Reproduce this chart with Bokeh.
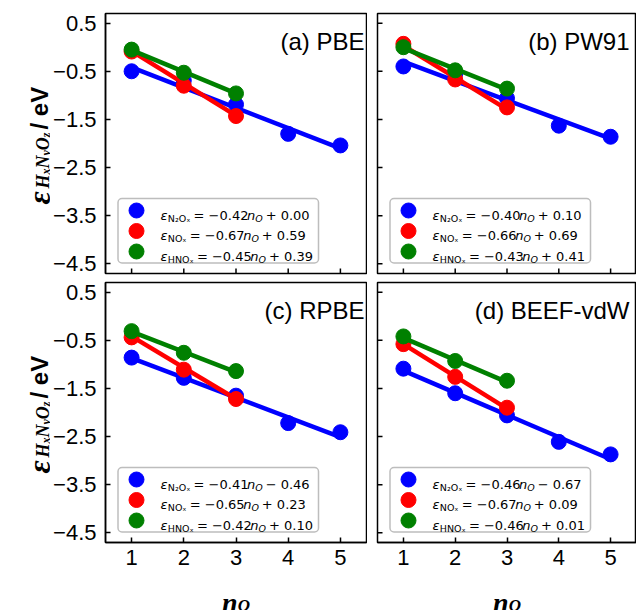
import numpy as np
from bokeh.plotting import figure
from bokeh.layouts import row, column
from bokeh.models import Range1d, FixedTicker, CustomJSTickFormatter, BoxAnnotation
from bokeh.core.properties import value
from bokeh.embed import file_html
from bokeh.resources import INLINE

# ---------------- data ----------------
functionals = ["PBE", "PW91", "RPBE", "BEEF-vdW"]
panel_tags = ["(a)", "(b)", "(c)", "(d)"]
species_sub = ["N₂Oₓ", "NOₓ", "HNOₓ"]
series_colors = ["#0000ff", "#ff0000", "#008000"]

n_O_n2ox = [1, 2, 3, 4, 5]
n_O_nox = [1, 2, 3]
n_O_hnox = [1, 2, 3]

pbe_n2ox = [-0.50, -0.69, -1.19, -1.80, -2.04]
pbe_nox = [-0.09, -0.80, -1.43]
pbe_hnox = [-0.05, -0.53, -0.96]

pw91_n2ox = [-0.40, -0.55, -1.06, -1.63, -1.86]
pw91_nox = [0.07, -0.67, -1.25]
pw91_hnox = [0.00, -0.48, -0.86]

rpbe_n2ox = [-0.86, -1.28, -1.65, -2.22, -2.41]
rpbe_nox = [-0.44, -1.11, -1.72]
rpbe_hnox = [-0.31, -0.76, -1.14]

beef_n2ox = [-1.09, -1.60, -2.06, -2.61, -2.87]
beef_nox = [-0.58, -1.26, -1.90]
beef_hnox = [-0.42, -0.93, -1.34]

# linear fits (N2Ox, NOx, HNOx)
pbe_slopes = [-0.42, -0.67, -0.45]
pbe_intercepts = [0.00, 0.59, 0.39]
pw91_slopes = [-0.40, -0.66, -0.43]
pw91_intercepts = [0.10, 0.69, 0.41]
rpbe_slopes = [-0.41, -0.65, -0.42]
rpbe_intercepts = [-0.46, 0.23, 0.10]
beef_slopes = [-0.46, -0.67, -0.46]
beef_intercepts = [-0.67, 0.09, 0.01]

x_ticks = [1, 2, 3, 4, 5]
y_ticks = [0.5, -0.5, -1.5, -2.5, -3.5, -4.5]
X_LIM = (0.5, 5.5)
Y_LIM = (-4.7, 0.7)

panel_values = [
    (pbe_n2ox, pbe_nox, pbe_hnox, pbe_slopes, pbe_intercepts),
    (pw91_n2ox, pw91_nox, pw91_hnox, pw91_slopes, pw91_intercepts),
    (rpbe_n2ox, rpbe_nox, rpbe_hnox, rpbe_slopes, rpbe_intercepts),
    (beef_n2ox, beef_nox, beef_hnox, beef_slopes, beef_intercepts),
]

# ---------------- layout constants (px, page coordinates start at 0) ----------------
LAB_W = 50
LEFT_B = 55
FW_L = 261
RIGHT_B_L = 1
GAP = 10
FW_R = 259
TOP_B = 13
FH = 260
MID_B1 = 5
MID_B2 = 4
BOT_B = 32
XLAB_H = 36
TOP_H = TOP_B + FH + MID_B1
BOT_H = MID_B2 + FH + BOT_B
TOT_H = TOP_H + BOT_H + XLAB_H
TICK_LEN = 5

# DejaVu Sans advance widths (em)
DJV = {'ε': 0.56, 'N': 0.748, 'O': 0.787, 'H': 0.752, '₂': 0.40, 'ₓ': 0.40,
       '=': 0.838, '−': 0.838, '+': 0.838, ' ': 0.318, '.': 0.318, 'n': 0.634}
# Liberation Serif bold italic / Liberation Sans bold advance widths (em)
TBI = {'ε': 0.50, 'H': 0.778, 'N': 0.722, 'O': 0.722, 'x': 0.5, 'y': 0.444, 'z': 0.389, 'n': 0.556}
LSB = {'/': 0.278, ' ': 0.278, 'e': 0.556, 'V': 0.667}


def tw(s, size, table=DJV):
    return sum(table.get(c, 0.6) for c in s) * size


def make_panel(i):
    left_col = i % 2 == 0
    bottom_row = i >= 2
    fw = FW_L if left_col else FW_R
    bl = LEFT_B if left_col else GAP
    br = RIGHT_B_L if left_col else 0
    bt, bb = (MID_B2, BOT_B) if bottom_row else (TOP_B, MID_B1)

    p = figure(width=bl + fw + br, height=bt + FH + bb, title=None,
               x_range=Range1d(*X_LIM), y_range=Range1d(*Y_LIM),
               output_backend="svg", toolbar_location=None,
               min_border_left=bl, min_border_right=br,
               min_border_top=bt, min_border_bottom=bb)
    p.grid.visible = False
    p.background_fill_color = "white"
    p.border_fill_color = "white"
    p.outline_line_color = "black"
    p.outline_line_width = 1.5
    p.outline_line_alpha = 1.0

    def dx(px):
        return X_LIM[0] + px / fw * (X_LIM[1] - X_LIM[0])

    def dy(py):
        return Y_LIM[0] + py / FH * (Y_LIM[1] - Y_LIM[0])

    for ax in (p.xaxis[0], p.yaxis[0]):
        ax.axis_line_color = "black"
        ax.axis_line_width = 1.5
        ax.major_tick_in = TICK_LEN
        ax.major_tick_out = 0
        ax.major_tick_line_width = 1.5
        ax.major_tick_line_color = "black"
        ax.minor_tick_line_color = None
        ax.major_label_text_font = "Liberation Sans"
        ax.major_label_text_font_size = "22px"
        ax.major_label_text_color = "black"
    p.xaxis.ticker = FixedTicker(ticks=x_ticks)
    p.yaxis.ticker = FixedTicker(ticks=y_ticks)
    p.yaxis.formatter = CustomJSTickFormatter(
        code="return tick.toFixed(1).replace('-', '\u2212');")
    p.xaxis.major_label_standoff = 7
    p.yaxis.major_label_standoff = 9

    # unlabelled sides: inward ticks only
    if not bottom_row:
        p.xaxis.visible = False
        p.segment(x0=x_ticks, y0=[Y_LIM[0]] * len(x_ticks), x1=x_ticks,
                  y1=[dy(TICK_LEN)] * len(x_ticks), line_color="black", line_width=1.5)
    if not left_col:
        p.yaxis.visible = False
        p.segment(x0=[X_LIM[0]] * len(y_ticks), y0=y_ticks,
                  x1=[dx(TICK_LEN)] * len(y_ticks), y1=y_ticks,
                  line_color="black", line_width=1.5)

    n2ox, nox, hnox, slopes, icpts = panel_values[i]
    xs = [n_O_n2ox, n_O_nox, n_O_hnox]
    ys = [n2ox, nox, hnox]
    for k in range(3):
        x = np.array(xs[k], dtype=float)
        xf = np.array([x[0], x[-1]])
        yf = slopes[k] * xf + icpts[k]
        p.line(xf, yf, line_width=4.5, color=series_colors[k])
        p.scatter(x, ys[k], size=15, color=series_colors[k])

    # panel title
    roff = 2 if left_col else 7
    p.text(x=[dx(fw - roff)], y=[dy(FH - 28)],
           text=[f"{panel_tags[i]} {functionals[i]}"],
           text_font=value("Liberation Sans"), text_font_size="24px",
           text_align="right", text_baseline="alphabetic", text_color="black")

    # legend (drawn manually to keep the math formatting)
    box = BoxAnnotation(left=dx(12.5), right=dx(213), bottom=dy(10.5), top=dy(75),
                        fill_color="white", fill_alpha=1.0,
                        line_color="#262626", line_width=1.5, border_radius=4,
                        level="underlay")
    p.add_layout(box)
    rows_px = [63, 42.5, 22]
    p.scatter(x=[dx(31)] * 3, y=[dy(r) for r in rows_px], size=15,
              color=series_colors)
    FS, SFS = 13, 9.5
    it_x, it_y, it_t = [], [], []
    rm_x, rm_y, rm_t = [], [], []
    sub_x, sub_y, sub_t = [], [], []
    subi_x, subi_y, subi_t = [], [], []
    for k in range(3):
        base = rows_px[k] - 4.5
        sbase = base - 3
        x_eps = 55
        x_sub = x_eps + tw("ε", FS)
        x_eq = x_sub + tw(species_sub[k], SFS) + 3.6
        eq = "= " + ("−" if slopes[k] < 0 else "") + f"{abs(slopes[k]):.2f}"
        x_n = x_eq + tw(eq, FS)
        x_O = x_n + tw("n", FS)
        x_b = x_O + tw("O", SFS) + 2.9
        bt_txt = ("+ " if icpts[k] >= 0 else "− ") + f"{abs(icpts[k]):.2f}"
        it_x += [dx(x_eps), dx(x_n)]
        it_y += [dy(base), dy(base)]
        it_t += ["ε", "n"]
        rm_x += [dx(x_eq), dx(x_b)]
        rm_y += [dy(base), dy(base)]
        rm_t += [eq, bt_txt]
        sub_x.append(dx(x_sub)); sub_y.append(dy(sbase)); sub_t.append(species_sub[k])
        subi_x.append(dx(x_O)); subi_y.append(dy(sbase)); subi_t.append("O")
    common = dict(text_font=value("DejaVu Sans"), text_align="left",
                  text_baseline="alphabetic", text_color="black")
    p.text(x=it_x, y=it_y, text=it_t, text_font_size=f"{FS}px",
           text_font_style="italic", **common)
    p.text(x=rm_x, y=rm_y, text=rm_t, text_font_size=f"{FS}px", **common)
    p.text(x=sub_x, y=sub_y, text=sub_t, text_font_size=f"{SFS}px", **common)
    p.text(x=subi_x, y=subi_y, text=subi_t, text_font_size=f"{SFS}px",
           text_font_style="italic", **common)
    return p


panels = [make_panel(i) for i in range(4)]

# ---------------- y-axis labels (rotated, mixed formatting) ----------------
lab = figure(width=LAB_W, height=TOT_H, title=None, x_range=Range1d(0, LAB_W),
             y_range=Range1d(0, TOT_H), x_axis_type=None, y_axis_type=None,
             output_backend="svg", toolbar_location=None, min_border=0)
lab.outline_line_color = None
lab.grid.visible = False
lab.background_fill_color = "white"

ylab_pieces = [("ε", 32, "Liberation Serif", "bold italic", 38.5, TBI),
               ("H", 18, "Liberation Serif", "bold italic", 42.5, TBI),
               ("x", 12, "Liberation Serif", "bold italic", 45, TBI),
               ("N", 18, "Liberation Serif", "bold italic", 42.5, TBI),
               ("y", 12, "Liberation Serif", "bold italic", 45, TBI),
               ("O", 18, "Liberation Serif", "bold italic", 42.5, TBI),
               ("z", 12, "Liberation Serif", "bold italic", 45, TBI),
               (None, 3, None, None, None, None),
               ("/ eV", 24, "Liberation Sans", "bold", 38.5, LSB)]
for frame_top in (TOP_B, TOP_H + MID_B2):
    pos = frame_top + 191  # page y where the label starts (its lower end)
    for txt, size, font, style, xb, table in ylab_pieces:
        if txt is None:
            pos -= size
            continue
        lab.text(x=[xb], y=[TOT_H - pos], text=[txt], angle=np.pi / 2,
                 text_font=value(font), text_font_size=f"{size}px",
                 text_font_style=style, text_align="left",
                 text_baseline="alphabetic", text_color="black")
        pos -= tw(txt, size, table)

# ---------------- x-axis labels ----------------
XW = (LEFT_B + FW_L + RIGHT_B_L) + (GAP + FW_R)
xlab = figure(width=XW, height=XLAB_H, title=None, x_range=Range1d(LAB_W, LAB_W + XW),
              y_range=Range1d(0, XLAB_H), x_axis_type=None, y_axis_type=None,
              output_backend="svg", toolbar_location=None, min_border=0)
xlab.outline_line_color = None
xlab.grid.visible = False
xlab.background_fill_color = "white"
centers = [LAB_W + LEFT_B + FW_L / 2,
           LAB_W + LEFT_B + FW_L + RIGHT_B_L + GAP + FW_R / 2]
NFS, OFS = 28, 17
for c in centers:
    wn = tw("n", NFS, TBI)
    wo = tw("O", OFS, TBI)
    xs0 = c - (wn + wo) / 2
    xlab.text(x=[xs0], y=[TOT_H - 602], text=["n"],
              text_font=value("Liberation Serif"), text_font_size=f"{NFS}px",
              text_font_style="bold italic", text_align="left",
              text_baseline="alphabetic", text_color="black")
    xlab.text(x=[xs0 + wn], y=[TOT_H - 604.5], text=["O"],
              text_font=value("Liberation Serif"), text_font_size=f"{OFS}px",
              text_font_style="bold italic", text_align="left",
              text_baseline="alphabetic", text_color="black")

layout = row(lab, column(row(panels[0], panels[1]), row(panels[2], panels[3]), xlab))

open("out.html", "w").write(file_html(layout, INLINE))
